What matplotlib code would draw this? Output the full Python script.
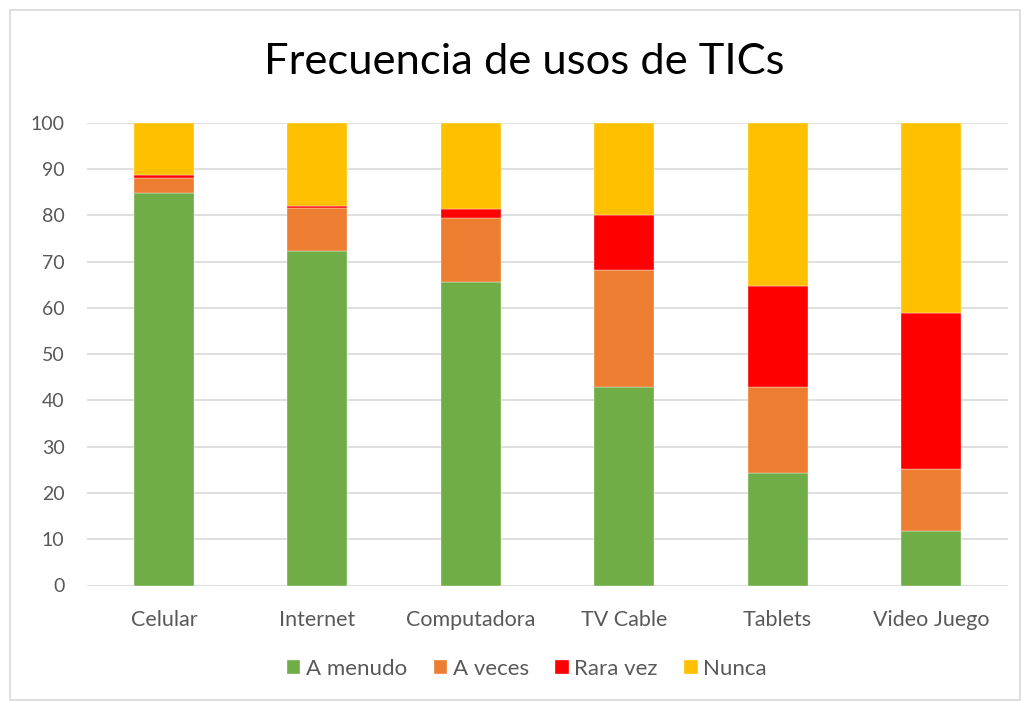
import matplotlib
matplotlib.use("Agg")
import matplotlib.pyplot as plt
import numpy as np

categories = ["Celular", "Internet", "Computadora", "TV Cable", "Tablets", "Video Juego"]
a_menudo = [84.8, 72.2, 65.5, 42.9, 24.4, 11.8]
a_veces = [3.3, 9.3, 13.9, 25.2, 18.5, 13.3]
rara_vez = [0.6, 0.6, 2.0, 12.0, 21.9, 33.7]
nunca = [11.3, 17.9, 18.6, 19.9, 35.2, 41.2]
series_names = ["A menudo", "A veces", "Rara vez", "Nunca"]
colors = ["#70AD47", "#ED7D31", "#FF0000", "#FFC000"]
yticks = [0, 10, 20, 30, 40, 50, 60, 70, 80, 90, 100]

plt.rcParams['font.family'] = ['Lato', 'DejaVu Sans']

W, H = 1025, 702
fig = plt.figure(figsize=(W/100, H/100), dpi=100)
ax = fig.add_axes([87.3/W, 1-585.5/H, (1007.7-87.3)/W, (585.5-122.7)/H])

x = np.arange(len(categories))
bottom = np.zeros(len(categories))
for name, vals, c in zip(series_names, [a_menudo, a_veces, rara_vez, nunca], colors):
    ax.bar(x, vals, width=0.39, bottom=bottom, color=c, label=name,
           edgecolor='white', linewidth=0.25, zorder=3)
    bottom += np.array(vals)

ax.set_xlim(-0.5, len(categories)-0.5)
ax.set_ylim(0, 100)
ax.set_yticks(yticks)
ax.set_xticks(x)
ax.set_xticklabels(categories)
ax.grid(axis='y', color='#D9D9D9', linewidth=1.2, zorder=0)
for s in ax.spines.values():
    s.set_visible(False)
ax.tick_params(axis='both', length=0, colors='#595959')
ax.tick_params(axis='y', pad=16.5, labelsize=14)
ax.tick_params(axis='x', pad=17.5, labelsize=15.5)

fig.text(524/W, 1-62/H, "Frecuencia de usos de TICs", ha='center', va='center',
         fontsize=31.3, color='black')

handles, labels = ax.get_legend_handles_labels()
leg = fig.legend(handles, labels, loc='center', bbox_to_anchor=(527/W, 1-669/H), ncol=4,
                 frameon=False, fontsize=16, handlelength=0.6, handleheight=0.6,
                 handletextpad=0.25, columnspacing=1.2)
for t in leg.get_texts():
    t.set_color('#595959')

# outer chart border
rect = plt.Rectangle((10/W, 1-700/H), 1010/W, 690/H, transform=fig.transFigure,
                     fill=False, edgecolor='#D9D9D9', linewidth=1.2)
fig.patches.append(rect)

fig.savefig("out.png", dpi=100)
